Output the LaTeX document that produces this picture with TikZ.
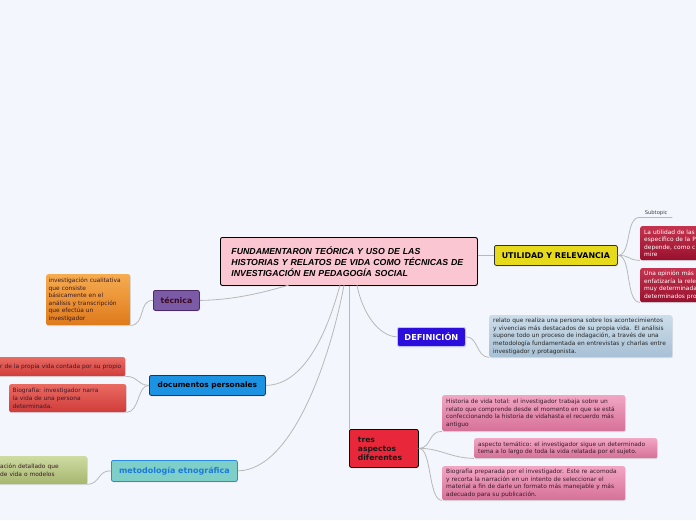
\documentclass[tikz,border=0pt]{standalone}
\usepackage{fontspec}
\setmainfont{DejaVu Sans}
\newfontfamily\arialf{Liberation Sans}
\usetikzlibrary{shadows}
\definecolor{bgc}{HTML}{F3F6FD}
\definecolor{conn}{HTML}{B8B8B8}
\definecolor{cenfill}{HTML}{F9C6D1}
\definecolor{tecfill}{HTML}{7C5BA6}
\definecolor{tecdraw}{HTML}{4A2A6A}
\definecolor{tectext}{HTML}{3B0A22}
\definecolor{orTop}{HTML}{F6AC50}
\definecolor{orBot}{HTML}{DE7A1C}
\definecolor{docfill}{HTML}{1B92E2}
\definecolor{rdTop}{HTML}{EA6A62}
\definecolor{rdBot}{HTML}{D03C3A}
\definecolor{metfill}{HTML}{7DCFC8}
\definecolor{metdraw}{HTML}{2C8BE0}
\definecolor{mettext}{HTML}{1C7AD8}
\definecolor{grTop}{HTML}{CEDBA2}
\definecolor{grBot}{HTML}{A6B66E}
\definecolor{utfill}{HTML}{E6DA1A}
\definecolor{drTop}{HTML}{C4344E}
\definecolor{drBot}{HTML}{98102E}
\definecolor{deffill}{HTML}{2C0EDC}
\definecolor{dbTop}{HTML}{CCDDEA}
\definecolor{dbBot}{HTML}{A8C0D4}
\definecolor{tresfill}{HTML}{E8283A}
\definecolor{pkTop}{HTML}{F2A6C4}
\definecolor{pkBot}{HTML}{D67096}
\definecolor{smalltext}{HTML}{3A1A28}
\tikzset{
  base/.style={anchor=north west, rounded corners=2pt, inner ysep=0pt,
    drop shadow={opacity=0.22, shadow xshift=0.6pt, shadow yshift=-1pt}},
  topic/.style={base, line width=0.8pt, font=\fontsize{7.4}{8.5}\selectfont\bfseries, align=center},
  leaf/.style={base, draw=none, inner xsep=4pt, align=left,
    font=\fontsize{5.9}{7.6}\selectfont},
  conn/.style={draw=conn, line width=0.8pt},
}
\begin{document}
\begin{tikzpicture}[x=1pt,y=-1pt]
\useasboundingbox[fill=bgc] (0,0) rectangle (696,520);

% anchor points on the central topic
\coordinate (ctec) at (289,285);
\coordinate (cdoc) at (340,285);
\coordinate (cmet) at (344,285);
\coordinate (ctres) at (349,285);
\coordinate (cdef) at (357,285);

\draw[conn] (ctres) -- (349,429) coordinate (tresnw);

% central
\node[base, draw=black, line width=0.9pt, fill=cenfill, minimum width=257, minimum height=48,
  text width=235, inner xsep=11pt, align=left,
  font=\arialf\fontsize{8.75}{11}\selectfont\bfseries\itshape] (cen) at (220,237)
  {FUNDAMENTARON TEÓRICA Y USO DE LAS\\HISTORIAS Y RELATOS DE VIDA COMO TÉCNICAS DE\\INVESTIGACIÓN EN PEDAGOGÍA SOCIAL};

% técnica
\node[topic, draw=tecdraw, fill=tecfill, text=tectext, minimum width=46, minimum height=20,
  font=\fontsize{7.8}{9}\selectfont\bfseries] (tec) at (153,290) {técnica};
\node[leaf, top color=orTop, bottom color=orBot, minimum width=84, minimum height=51, text width=79,
  text=smalltext, inner xsep=2.5pt] (ora) at (46,274)
  {investigación cualitativa\\que consiste\\básicamente en el\\análisis y transcripción\\que efectúa un\\investigador};

% documentos personales
\node[topic, draw=black!80, fill=docfill, text=black, minimum width=116, minimum height=20] (doc) at (149,375) {documentos personales};
\node[leaf, top color=rdTop, bottom color=rdBot, minimum width=128, minimum height=19, text width=122,
  text=smalltext, inner xsep=3pt] (red1) at (-3,357)
  {r de la propia vida contada por su propio};
\node[leaf, top color=rdTop, bottom color=rdBot, minimum width=117, minimum height=28, text width=110,
  text=smalltext, inner xsep=3.5pt] (red2) at (9,384)
  {Biografía: investigador narra\\la vida de una persona\\determinada.};

% metodología etnográfica
\node[topic, draw=metdraw, fill=metfill, text=mettext, minimum width=126, minimum height=21,
  font=\fontsize{8}{9}\selectfont\bfseries] (met) at (111,460) {metodología etnográfica};
\node[leaf, top color=grTop, bottom color=grBot, minimum width=97, minimum height=28, text width=95,
  text=smalltext, inner xsep=1pt] (grn) at (-10,456)
  {\hspace*{9pt}ación detallado que\\\hspace*{9pt}de vida o modelos};

% UTILIDAD Y RELEVANCIA
\node[topic, draw=black!80, fill=utfill, text=black, minimum width=123, minimum height=20,
  font=\fontsize{7.9}{9}\selectfont\bfseries] (util) at (494,245) {UTILIDAD Y RELEVANCIA};
\node[anchor=north west, minimum width=32, minimum height=9, inner sep=0pt, text=black!75,
  font=\fontsize{5.2}{6}\selectfont] (sub) at (640,208) {Subtopic};
\node[leaf, top color=drTop, bottom color=drBot, minimum width=70, minimum height=34, text width=62,
  text=white] (dr1) at (640,226)
  {La utilidad de las\\específico de la P\\depende, como c\\mire};
\node[leaf, top color=drTop, bottom color=drBot, minimum width=70, minimum height=34, text width=62,
  text=white] (dr2) at (640,268)
  {Una opinión más\\enfatizaría la rele\\muy determinada\\determinados pro};

% DEFINICIÓN
\node[topic, draw=blue!25, fill=deffill, text=white, minimum width=68, minimum height=19,
  font=\fontsize{8.2}{9}\selectfont\bfseries] (def) at (397,327) {DEFINICIÓN};
\node[leaf, top color=dbTop, bottom color=dbBot, minimum width=183, minimum height=42, text width=175,
  text=black!85] (dbox) at (489,315)
  {relato que realiza una persona sobre los acontecimientos\\y vivencias más destacados de su propia vida. El análisis\\supone todo un proceso de indagación, a través de una\\metodología fundamentada en entrevistas y charlas entre\\investigador y protagonista.};

% tres aspectos diferentes
\node[topic, draw=black, fill=tresfill, text=black!90, minimum width=69, minimum height=38,
  text width=52, inner xsep=8.5pt, align=left, font=\fontsize{7.6}{9}\selectfont\bfseries] (tres) at (349,429)
  {tres\\aspectos\\diferentes};
\node[leaf, top color=pkTop, bottom color=pkBot, minimum width=183, minimum height=36, text width=175,
  text=smalltext] (pk1) at (442,395)
  {Historia de vida total: el investigador trabaja sobre un\\relato que comprende desde el momento en que se está\\confeccionando la historia de vidahasta el recuerdo más\\antiguo};
\node[leaf, top color=pkTop, bottom color=pkBot, minimum width=183, minimum height=20, text width=175,
  text=smalltext] (pk2) at (474,438)
  {aspecto temático: el investigador sigue un determinado\\tema a lo largo de toda la vida relatada por el sujeto.};
\node[leaf, top color=pkTop, bottom color=pkBot, minimum width=183, minimum height=34, text width=175,
  text=smalltext] (pk3) at (442,466)
  {Biografía preparada por el investigador. Este re acomoda\\y recorta la narración en un intento de seleccionar el\\material a fin de darle un formato más manejable y más\\adecuado para su publicación.};

% connectors
\draw[conn] (tec.east) .. controls (235,300) and (265,292) .. (ctec);
\draw[conn] (doc.east) .. controls (305,385) and (328,330) .. (cdoc);
\draw[conn] (met.east) .. controls (295,470) and (332,350) .. (cmet);
\draw[conn] (def.west) .. controls (378,336) and (362,312) .. (cdef);
\draw[conn] (cen.east |- util.west) -- (util.west);

\draw[conn] (tec.west) .. controls (138,300) and (146,325) .. (ora.south east);
\draw[conn] (doc.west) .. controls (137,385) and (138,376) .. (red1.south east);
\draw[conn] (doc.west) .. controls (137,385) and (140,412) .. (red2.south east);
\draw[conn] (met.west) .. controls (98,470) and (100,484) .. (grn.south east);

\draw[conn] (util.east) .. controls (632,255) and (625,217) .. (sub.south west) -- (sub.south east);
\draw[conn] (util.east) .. controls (630,255) and (627,260) .. (dr1.south west);
\draw[conn] (util.east) .. controls (632,255) and (625,302) .. (dr2.south west);

\draw[conn] (def.east) .. controls (478,336) and (476,357) .. (dbox.south west);

\draw[conn] (tres.east) .. controls (432,448) and (428,431) .. (pk1.south west);
\draw[conn] (tres.east) .. controls (440,448) and (450,458) .. (pk2.south west);
\draw[conn] (tres.east) .. controls (432,448) and (428,500) .. (pk3.south west);
\end{tikzpicture}
\end{document}
